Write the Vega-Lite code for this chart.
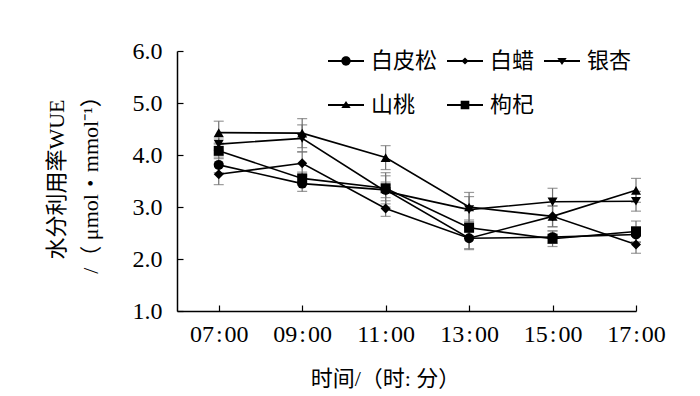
{
  "$schema": "https://vega.github.io/schema/vega-lite/v6.json",
  "autosize": {"type": "none"},
  "padding": {"left": 177, "top": 51, "right": 64, "bottom": 85},
  "width": 459,
  "height": 260,
  "background": "white",
  "config": {
    "view": {"stroke": null},
    "axis": {
      "grid": false,
      "domainColor": "black",
      "domainWidth": 1.5,
      "tickColor": "black",
      "tickWidth": 1.2,
      "tickSize": -6,
      "labelFont": "Liberation Serif",
      "labelFontSize": 24,
      "labelColor": "black",
      "labelOverlap": false,
      "labelFlush": false,
      "titleFont": "Liberation Serif, Noto Sans CJK SC",
      "titleFontSize": 22,
      "titleFontWeight": "normal",
      "titleColor": "black"
    },
    "axisY": {
      "values": [1, 2, 3, 4, 5, 6],
      "format": ".1f",
      "labelPadding": 21,
      "titleAngle": -90,
      "titleX": -109,
      "titleY": 128,
      "titleAlign": "center",
      "titleBaseline": "bottom",
      "titleLineHeight": 34
    }
  },
  "resolve": {"scale": {"shape": "independent"}},
  "data": {
    "values": [
      {"series": "白皮松", "hour": 7, "wue": 3.81, "lo": 3.66, "hi": 3.96},
      {"series": "白皮松", "hour": 9, "wue": 3.45, "lo": 3.30, "hi": 3.60},
      {"series": "白皮松", "hour": 11, "wue": 3.33, "lo": 3.18, "hi": 3.48},
      {"series": "白皮松", "hour": 13, "wue": 2.40, "lo": 2.18, "hi": 2.62},
      {"series": "白皮松", "hour": 15, "wue": 2.42, "lo": 2.30, "hi": 2.54},
      {"series": "白皮松", "hour": 17, "wue": 2.47, "lo": 2.32, "hi": 2.62},
      {"series": "白蜡", "hour": 7, "wue": 3.63, "lo": 3.43, "hi": 3.83},
      {"series": "白蜡", "hour": 9, "wue": 3.84, "lo": 3.62, "hi": 4.06},
      {"series": "白蜡", "hour": 11, "wue": 2.97, "lo": 2.82, "hi": 3.12},
      {"series": "白蜡", "hour": 13, "wue": 2.40, "lo": 2.20, "hi": 2.60},
      {"series": "白蜡", "hour": 15, "wue": 2.82, "lo": 2.62, "hi": 3.02},
      {"series": "白蜡", "hour": 17, "wue": 2.28, "lo": 2.11, "hi": 2.45},
      {"series": "银杏", "hour": 7, "wue": 4.21, "lo": 4.09, "hi": 4.33},
      {"series": "银杏", "hour": 9, "wue": 4.32, "lo": 4.06, "hi": 4.58},
      {"series": "银杏", "hour": 11, "wue": 3.30, "lo": 3.00, "hi": 3.60},
      {"series": "银杏", "hour": 13, "wue": 2.95, "lo": 2.70, "hi": 3.20},
      {"series": "银杏", "hour": 15, "wue": 3.10, "lo": 2.84, "hi": 3.36},
      {"series": "银杏", "hour": 17, "wue": 3.11, "lo": 2.92, "hi": 3.30},
      {"series": "山桃", "hour": 7, "wue": 4.43, "lo": 4.21, "hi": 4.65},
      {"series": "山桃", "hour": 9, "wue": 4.42, "lo": 4.14, "hi": 4.70},
      {"series": "山桃", "hour": 11, "wue": 3.95, "lo": 3.72, "hi": 4.18},
      {"series": "山桃", "hour": 13, "wue": 3.00, "lo": 2.72, "hi": 3.28},
      {"series": "山桃", "hour": 15, "wue": 2.82, "lo": 2.62, "hi": 3.02},
      {"series": "山桃", "hour": 17, "wue": 3.32, "lo": 3.09, "hi": 3.55},
      {"series": "枸杞", "hour": 7, "wue": 4.08, "lo": 3.93, "hi": 4.23},
      {"series": "枸杞", "hour": 9, "wue": 3.55, "lo": 3.43, "hi": 3.67},
      {"series": "枸杞", "hour": 11, "wue": 3.36, "lo": 3.06, "hi": 3.66},
      {"series": "枸杞", "hour": 13, "wue": 2.60, "lo": 2.45, "hi": 2.75},
      {"series": "枸杞", "hour": 15, "wue": 2.39, "lo": 2.24, "hi": 2.54},
      {"series": "枸杞", "hour": 17, "wue": 2.53, "lo": 2.33, "hi": 2.73}
    ]
  },
  "encoding": {
    "x": {
      "field": "hour",
      "type": "quantitative",
      "scale": {"domain": [6, 17], "nice": false, "zero": false},
      "axis": {
        "values": [7, 9, 11, 13, 15, 17],
        "labelExpr": "(datum.value < 10 ? '0' : '') + datum.value + '\u200a:\u200a00'",
        "labelPadding": 17,
        "title": "时间/（时: 分）",
        "titleX": 208,
        "titleY": 67,
        "titleAnchor": null,
        "titleAlign": "center",
        "titleBaseline": "middle"
      }
    }
  },
  "layer": [
    {
      "mark": {"type": "errorbar", "ticks": {"size": 10, "color": "#707070"}, "color": "#707070", "thickness": 1.2},
      "encoding": {
        "y": {"field": "lo", "type": "quantitative", "scale": {"domain": [1, 6], "nice": false, "zero": false}, "title": ["水分利用率WUE", "/（ μmol・mmol⁻¹）"]},
        "y2": {"field": "hi"},
        "detail": {"field": "series"}
      }
    },
    {
      "mark": {"type": "line", "color": "black", "strokeWidth": 1.6},
      "encoding": {
        "y": {"field": "wue", "type": "quantitative", "title": ["水分利用率WUE", "/（ μmol・mmol⁻¹）"]},
        "detail": {"field": "series"}
      }
    },
    {
      "mark": {"type": "point", "filled": true, "color": "black", "opacity": 1, "size": 100},
      "encoding": {
        "y": {
          "field": "wue",
          "type": "quantitative",
          "scale": {"domain": [1, 6], "nice": false, "zero": false},
          "title": ["水分利用率WUE", "/（ μmol・mmol⁻¹）"]
        },
        "shape": {
          "field": "series",
          "type": "nominal",
          "scale": {
            "domain": ["白皮松", "白蜡", "银杏", "山桃", "枸杞"],
            "range": ["circle", "diamond", "triangle-down", "triangle-up", "square"]
          },
          "legend": null
        }
      }
    },
    {
      "mark": {"type": "point", "filled": true, "color": "black", "opacity": 0, "size": 1296},
      "encoding": {
        "y": {
          "field": "wue",
          "type": "quantitative",
          "title": ["水分利用率WUE", "/（ μmol・mmol⁻¹）"]
        },
        "shape": {
          "field": "series",
          "type": "nominal",
          "scale": {
            "domain": ["白皮松", "白蜡", "银杏", "山桃", "枸杞"],
            "range": [
              "M-1,-0.05H1V0.05H-1ZM0.26,0A0.26,0.26,0,1,1,-0.26,0A0.26,0.26,0,1,1,0.26,0Z",
              "M-1,-0.05H1V0.05H-1ZM0,-0.2L0.2,0L0,0.2L-0.2,0Z",
              "M-1,-0.05H1V0.05H-1ZM-0.26,-0.17L0.26,-0.17L0,0.22Z",
              "M-1,-0.05H1V0.05H-1ZM-0.26,0.17L0,-0.22L0.26,0.17Z",
              "M-1,-0.05H1V0.05H-1ZM-0.24,-0.24H0.24V0.24H-0.24Z"
            ]
          },
          "legend": {
            "title": null,
            "orient": "none",
            "legendX": 150,
            "legendY": -9,
            "direction": "horizontal",
            "columns": 3,
            "columnPadding": 6,
            "rowPadding": 14,
            "symbolSize": 1296,
            "symbolOpacity": 1,
            "labelOffset": 6,
            "labelFont": "Liberation Serif, Noto Sans CJK SC",
            "labelFontSize": 22,
            "labelColor": "black",
            "labelBaseline": "middle",
            "symbolFillColor": "black"
          }
        }
      }
    }
  ]
}
